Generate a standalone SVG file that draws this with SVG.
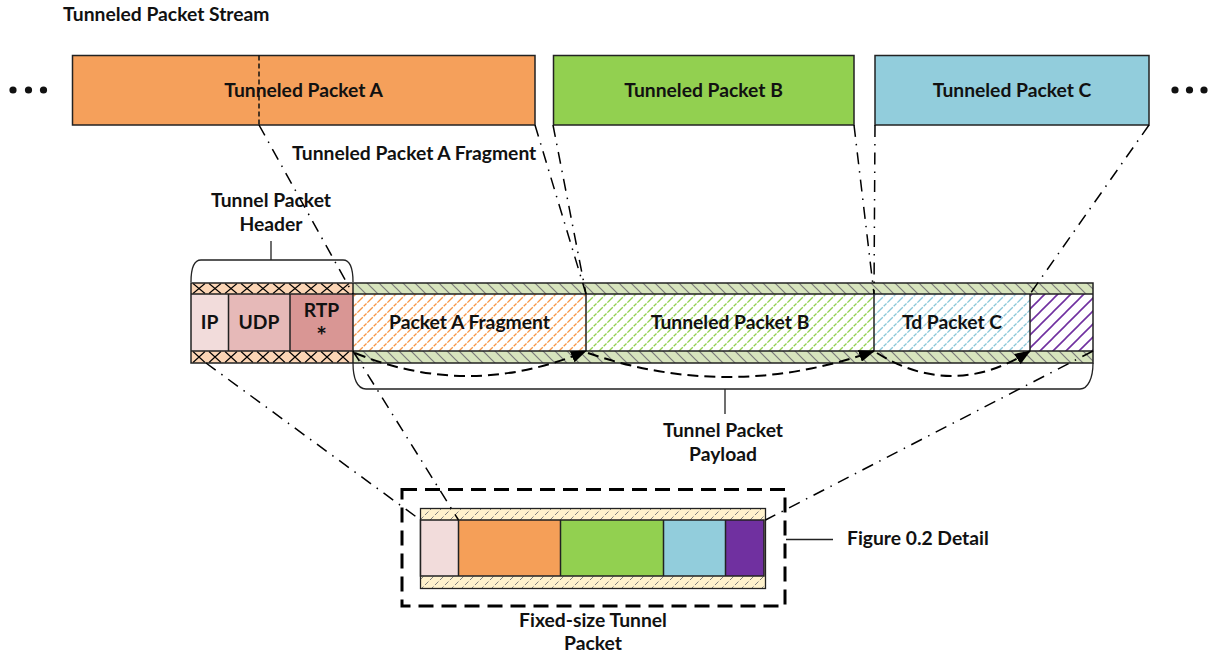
<svg xmlns="http://www.w3.org/2000/svg" width="1211" height="655" viewBox="0 0 1211 655">
<style>
text{font-family:Lato,"Open Sans","Liberation Sans",sans-serif;font-weight:bold;font-size:19.3px;fill:#111}
.c{text-anchor:middle}
.box{stroke:#222;stroke-width:1.5}
.thin{stroke:#222;stroke-width:1.3;fill:none}
.dd{stroke:#000;stroke-width:1.5;fill:none;stroke-dasharray:12 7 1.5 7}
.arr{stroke:#000;stroke-width:2;fill:none;stroke-dasharray:11 6}
</style>
<defs>
<pattern id="xt" patternUnits="userSpaceOnUse" x="191" y="283" width="16" height="11">
<rect width="16" height="11" fill="#fbd5b5"/><path d="M2,0.5 L14,10.5 M14,0.5 L2,10.5" stroke="#000" stroke-width="1.1"/>
</pattern>
<pattern id="xb" patternUnits="userSpaceOnUse" x="191" y="351" width="16" height="12">
<rect width="16" height="12" fill="#fbd5b5"/><path d="M2,0.5 L14,11.5 M14,0.5 L2,11.5" stroke="#000" stroke-width="1.1"/>
</pattern>
<pattern id="gh" patternUnits="userSpaceOnUse" width="12" height="12">
<rect width="12" height="12" fill="#d7e4bd"/><path d="M0,0L12,12M-6,6L6,18M6,-6L18,6" stroke="#7a7a7a" stroke-width="1.2"/>
</pattern>
<pattern id="ho" patternUnits="userSpaceOnUse" width="10" height="10">
<rect width="10" height="10" fill="#fff"/><path d="M0,10L10,0M-5,5L5,-5M5,15L15,5" stroke="#f79646" stroke-width="1.3" stroke-dasharray="4 1.2"/>
</pattern>
<pattern id="hg" patternUnits="userSpaceOnUse" width="10" height="10">
<rect width="10" height="10" fill="#fff"/><path d="M0,10L10,0M-5,5L5,-5M5,15L15,5" stroke="#92d050" stroke-width="1.3" stroke-dasharray="4 1.2"/>
</pattern>
<pattern id="hb" patternUnits="userSpaceOnUse" width="10" height="10">
<rect width="10" height="10" fill="#fff"/><path d="M0,10L10,0M-5,5L5,-5M5,15L15,5" stroke="#8ac7d8" stroke-width="1.3" stroke-dasharray="4 1.2"/>
</pattern>
<pattern id="hp" patternUnits="userSpaceOnUse" width="13" height="13">
<rect width="13" height="13" fill="#fff"/><path d="M0,13L13,0M-6.5,6.5L6.5,-6.5M6.5,19.5L19.5,6.5" stroke="#7030a0" stroke-width="1.6"/>
</pattern>
<pattern id="hy" patternUnits="userSpaceOnUse" width="10" height="10">
<rect width="10" height="10" fill="#fff2cc"/><path d="M0,10L10,0M-5,5L5,-5M5,15L15,5" stroke="#7f7f7f" stroke-width="1" stroke-dasharray="5 2"/>
</pattern>
<marker id="ah" markerUnits="userSpaceOnUse" markerWidth="16" markerHeight="12" refX="15" refY="6" orient="auto">
<path d="M0,0 L16,6 L0,12 Z" fill="#000"/>
</marker>
</defs>

<rect width="1211" height="655" fill="#fff"/>

<g id="title"><text x="63" y="21">Tunneled Packet Stream</text></g>

<g id="dots-left" fill="#111"><circle cx="13" cy="90" r="3.6"/><circle cx="28.5" cy="90" r="3.6"/><circle cx="43.5" cy="90" r="3.6"/></g>
<g id="dots-right" fill="#111"><circle cx="1175" cy="90" r="3.6"/><circle cx="1189.5" cy="90" r="3.6"/><circle cx="1204" cy="90" r="3.6"/></g>

<g id="packetA">
<rect class="box" x="72.5" y="55.5" width="462.5" height="69.5" fill="#f5a05b"/>
<path d="M259,55.5 V125" stroke="#111" stroke-width="1.5" stroke-dasharray="5 3"/>
<text class="c" x="303.5" y="97">Tunneled Packet A</text>
</g>
<g id="packetB">
<rect class="box" x="553.5" y="55.5" width="300.5" height="69.5" fill="#92d050"/>
<text class="c" x="703.5" y="97">Tunneled Packet B</text>
</g>
<g id="packetC">
<rect class="box" x="875" y="55.5" width="274" height="69.5" fill="#92cddc"/>
<text class="c" x="1012" y="97">Tunneled Packet C</text>
</g>

<g id="frag-label"><text x="292" y="160">Tunneled Packet A Fragment</text></g>

<g id="header-label">
<text class="c" x="271" y="207">Tunnel Packet</text>
<text class="c" x="271" y="231">Header</text>
<path class="thin" d="M191,282 C191,268 194,260 201,260 L343,260 C350,260 353,268 353,282 M271,260 V241"/>
</g>

<g id="tunnel-packet">
<rect x="191" y="283" width="162" height="11" fill="url(#xt)"/>
<rect x="191" y="351" width="162" height="12" fill="url(#xb)"/>
<rect x="353" y="283" width="740" height="11" fill="url(#gh)"/>
<rect x="353" y="351" width="740" height="12" fill="url(#gh)"/>
<rect x="191" y="294" width="37.5" height="57" fill="#f2dcdb"/>
<rect x="228.5" y="294" width="61.5" height="57" fill="#e6b9b8"/>
<rect x="290" y="294" width="63" height="57" fill="#d99694"/>
<rect x="353" y="294" width="233" height="57" fill="url(#ho)"/>
<rect x="586" y="294" width="288" height="57" fill="url(#hg)"/>
<rect x="874" y="294" width="156" height="57" fill="url(#hb)"/>
<rect x="1030" y="294" width="63" height="57" fill="url(#hp)"/>
<path d="M191,294 H1093 M191,351 H1093 M228.5,294 V351 M290,294 V351 M353,283 V363 M586,294 V351 M874,294 V351 M1030,294 V351" stroke="#222" stroke-width="1.5" fill="none"/>
<rect x="191" y="283" width="902" height="80" fill="none" stroke="#222" stroke-width="1.5"/>
<text class="c" x="209.5" y="329">IP</text>
<text class="c" x="259" y="329">UDP</text>
<text class="c" x="321.5" y="317">RTP</text>
<text class="c" x="321.5" y="345" style="font-size:25px">*</text>
<text class="c" x="469.5" y="329">Packet A Fragment</text>
<text class="c" x="730" y="329">Tunneled Packet B</text>
<text class="c" x="952" y="329">Td Packet C</text>
</g>

<g id="payload-label">
<path class="thin" d="M353,363 C353,378 357,389 366,389 L1080,389 C1088,389 1093,378 1093,363 M725,389 V414"/>
<text class="c" x="723" y="437">Tunnel Packet</text>
<text class="c" x="723" y="461">Payload</text>
</g>

<g id="detail">
<rect x="402" y="489.5" width="383" height="116.5" fill="none" stroke="#000" stroke-width="3" stroke-dasharray="15 8"/>
<rect x="420.5" y="508.5" width="345" height="80" fill="url(#hy)" stroke="#222" stroke-width="1.3"/>
<rect x="420.5" y="520" width="38" height="56" fill="#f2dcdb"/>
<rect x="458.5" y="520" width="102" height="56" fill="#f59f58"/>
<rect x="560.5" y="520" width="103" height="56" fill="#92d050"/>
<rect x="663.5" y="520" width="62" height="56" fill="#92cddc"/>
<rect x="725.5" y="520" width="38.5" height="56" fill="#7030a0"/>
<path d="M420.5,520 H764 V576 H420.5 Z M458.5,520 V576 M560.5,520 V576 M663.5,520 V576 M725.5,520 V576" stroke="#222" stroke-width="1.5" fill="none"/>
<path class="thin" d="M786,539.5 H833"/>
<text x="847" y="545">Figure 0.2 Detail</text>
<text class="c" x="593" y="627">Fixed-size Tunnel</text>
<text class="c" x="593" y="650">Packet</text>
</g>

<g id="connectors">
<path class="dd" d="M259,125 L353,294"/>
<path class="dd" d="M535,125 L586,294"/>
<path class="dd" d="M553,125 L586,294"/>
<path class="dd" d="M854,125 L874,294"/>
<path class="dd" d="M875,125 L874,294"/>
<path class="dd" d="M1149,125 L1030,294"/>
<path class="dd" d="M206,363 L420.5,520"/>
<path class="dd" d="M353,351 L458.5,520"/>
<path class="dd" d="M1093,351 L765.5,520"/>
<path class="arr" d="M355,353 Q470,400 586,351" marker-end="url(#ah)"/>
<path class="arr" d="M588,353 Q730,402 874,351" marker-end="url(#ah)"/>
<path class="arr" d="M877,353 Q953,400 1030,351" marker-end="url(#ah)"/>
</g>
</svg>
